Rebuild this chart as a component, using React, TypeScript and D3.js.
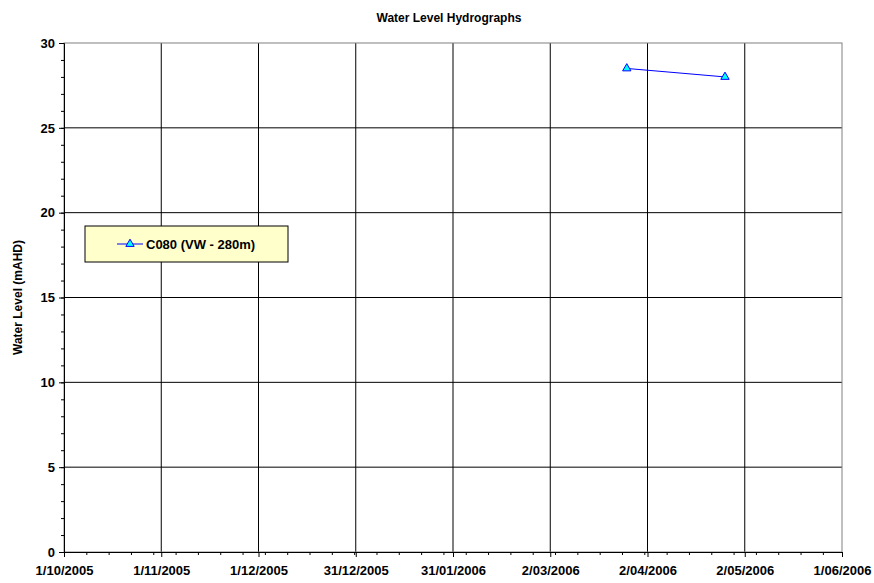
import * as d3 from 'd3';
import React, { useEffect, useRef } from 'react';

// days are counted from 1/10/2005
const tickLabels = ['1/10/2005', '1/11/2005', '1/12/2005', '31/12/2005', '31/01/2006', '2/03/2006', '2/04/2006', '2/05/2006', '1/06/2006'];
const seriesDays = [176.5, 207.3];
const seriesLevels = [28.5, 28.0];
const seriesName = 'C080 (VW - 280m)';

export default function App() {
    const ref = useRef<SVGSVGElement>(null);

    useEffect(() => {
        const width = 874;
        const height = 583;
        const left = 64, right = 842, top = 43, bottom = 552;
        const font = 'Arial, "Liberation Sans", sans-serif';
        const svg = d3.select(ref.current);
        svg.selectAll('*').remove();

        const x = d3.scaleLinear().domain([0, 244]).range([left, right]);
        const y = d3.scaleLinear().domain([0, 30]).range([bottom, top]);
        const majorX = tickLabels.map((_, i) => i * 30.5);
        const minorX = d3.range(0, 244, 7);

        svg.attr('width', width).attr('height', height);
        svg.append('rect').attr('width', width).attr('height', height).attr('fill', 'white');

        // grid
        const grid = svg.append('g');
        grid.selectAll('line.h')
            .data(y.ticks(6).filter(v => v > 0 && v < 30))
            .join('line')
            .attr('x1', left).attr('x2', right)
            .attr('y1', d => y(d)).attr('y2', d => y(d))
            .attr('stroke', '#000').attr('stroke-width', 1);
        grid.selectAll('line.v')
            .data(majorX.slice(1, -1))
            .join('line')
            .attr('x1', d => x(d)).attr('x2', d => x(d))
            .attr('y1', top).attr('y2', bottom)
            .attr('stroke', '#000').attr('stroke-width', 1);
        svg.append('rect')
            .attr('x', left).attr('y', top)
            .attr('width', right - left).attr('height', bottom - top)
            .attr('fill', 'none').attr('stroke', '#808080');

        // y axis
        const yAxis = svg.append('g').attr('transform', `translate(${left},0)`)
            .call(d3.axisLeft(y).ticks(6).tickSize(5).tickPadding(4));
        svg.append('g').attr('transform', `translate(${left},0)`)
            .call(d3.axisLeft(y).tickValues(d3.range(0, 31, 1)).tickSize(3).tickFormat(() => ''))
            .select('.domain').remove();

        // x axis
        const xAxis = svg.append('g').attr('transform', `translate(0,${bottom})`)
            .call(d3.axisBottom(x).tickValues(majorX).tickSize(5).tickPadding(9)
                .tickFormat((_, i) => tickLabels[i]));
        svg.append('g').attr('transform', `translate(0,${bottom})`)
            .call(d3.axisBottom(x).tickValues(minorX).tickSize(3).tickFormat(() => ''))
            .select('.domain').remove();

        svg.selectAll('.domain').attr('stroke', '#000');
        svg.selectAll('.tick line').attr('stroke', '#000');
        [xAxis, yAxis].forEach(a => a.selectAll('text')
            .attr('font-family', font).attr('font-size', 13).attr('font-weight', 'bold').attr('fill', '#000'));

        // series
        const pts = seriesDays.map((d, i) => [d, seriesLevels[i]] as [number, number]);
        svg.append('path')
            .datum(pts)
            .attr('d', d3.line<[number, number]>().x(d => x(d[0])).y(d => y(d[1])))
            .attr('fill', 'none').attr('stroke', '#0000ff').attr('stroke-width', 1);
        const tri = d3.symbol().type(d3.symbolTriangle).size(30);
        svg.selectAll('path.pt')
            .data(pts)
            .join('path')
            .attr('class', 'pt')
            .attr('transform', d => `translate(${x(d[0])},${y(d[1])})`)
            .attr('d', tri)
            .attr('fill', '#00ffff').attr('stroke', '#0000ff').attr('stroke-width', 1);

        // legend
        const lg = svg.append('g').attr('transform', 'translate(85,226)');
        lg.append('rect').attr('width', 203).attr('height', 36)
            .attr('fill', '#ffffcc').attr('stroke', '#000');
        lg.append('line').attr('x1', 32).attr('x2', 58).attr('y1', 18).attr('y2', 18)
            .attr('stroke', '#0000ff');
        lg.append('path').attr('transform', 'translate(45,18)').attr('d', tri)
            .attr('fill', '#00ffff').attr('stroke', '#0000ff');
        lg.append('text').attr('x', 61).attr('y', 23)
            .attr('font-family', font).attr('font-size', 13).attr('font-weight', 'bold')
            .text(seriesName);

        // titles
        svg.append('text').attr('x', 449).attr('y', 22).attr('text-anchor', 'middle')
            .attr('font-family', font).attr('font-size', 12).attr('font-weight', 'bold')
            .text('Water Level Hydrographs');
        svg.append('text')
            .attr('transform', `translate(22,${(top + bottom) / 2}) rotate(-90)`)
            .attr('text-anchor', 'middle')
            .attr('font-family', font).attr('font-size', 12).attr('font-weight', 'bold')
            .text('Water Level (mAHD)');
    }, []);

    return (
        <svg ref={ref} style={{ position: 'absolute', left: 0, top: 0 }} />
    );
}
